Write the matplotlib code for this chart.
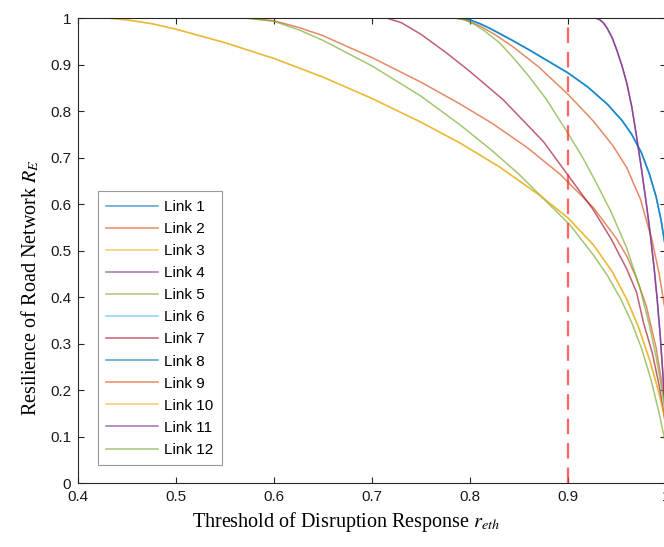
import matplotlib
matplotlib.use("Agg")
import matplotlib.pyplot as plt
from matplotlib.ticker import FuncFormatter

plt.rcParams['font.family'] = ['Liberation Sans', 'DejaVu Sans']
plt.rcParams['mathtext.fontset'] = 'stix'

# ---- data ----
blue_x = [0.40, 0.79, 0.80, 0.81, 0.82, 0.83, 0.844, 0.86, 0.88, 0.90, 0.92, 0.94, 0.955, 0.965, 0.975, 0.983, 0.99, 0.995, 1.0]
blue_y = [1.00, 1.00, 0.996, 0.988, 0.978, 0.967, 0.951, 0.932, 0.907, 0.882, 0.852, 0.815, 0.78, 0.75, 0.71, 0.665, 0.615, 0.565, 0.50]

lorange_x = [0.40, 0.575, 0.60, 0.625, 0.65, 0.70, 0.75, 0.79, 0.823, 0.858, 0.892, 0.926, 0.949, 0.96, 0.97, 0.98, 0.99, 1.0]
lorange_y = [1.00, 1.00, 0.994, 0.98, 0.962, 0.915, 0.862, 0.815, 0.773, 0.722, 0.664, 0.592, 0.527, 0.488, 0.44, 0.38, 0.29, 0.16]

yellow_x = [0.40, 0.43, 0.45, 0.475, 0.50, 0.55, 0.60, 0.65, 0.70, 0.75, 0.79, 0.83, 0.871, 0.90, 0.926, 0.945, 0.96, 0.972, 0.984, 0.992, 1.0]
yellow_y = [1.00, 1.00, 0.996, 0.988, 0.976, 0.947, 0.913, 0.873, 0.827, 0.776, 0.731, 0.68, 0.619, 0.57, 0.512, 0.455, 0.395, 0.335, 0.26, 0.20, 0.13]

purple_x = [0.40, 0.928, 0.932, 0.936, 0.94, 0.945, 0.95, 0.955, 0.96, 0.965, 0.97, 0.975, 0.98, 0.984, 0.988, 0.991, 0.994, 0.997, 1.0]
purple_y = [1.00, 1.00, 0.997, 0.99, 0.978, 0.958, 0.93, 0.898, 0.86, 0.81, 0.745, 0.675, 0.60, 0.535, 0.46, 0.395, 0.32, 0.23, 0.13]

lgreen_x = [0.40, 0.57, 0.60, 0.625, 0.65, 0.70, 0.75, 0.79, 0.823, 0.85, 0.871, 0.902, 0.926, 0.94, 0.954, 0.965, 0.975, 0.985, 0.993, 1.0]
lgreen_y = [1.00, 1.00, 0.993, 0.975, 0.952, 0.897, 0.832, 0.77, 0.714, 0.664, 0.62, 0.555, 0.49, 0.447, 0.395, 0.345, 0.29, 0.22, 0.15, 0.08]

crimson_x = [0.40, 0.715, 0.73, 0.75, 0.776, 0.80, 0.834, 0.875, 0.90, 0.926, 0.944, 0.96, 0.97, 0.977, 0.986, 0.993, 1.0]
crimson_y = [1.00, 1.00, 0.99, 0.965, 0.925, 0.885, 0.824, 0.734, 0.662, 0.587, 0.525, 0.46, 0.41, 0.345, 0.28, 0.21, 0.12]

dorange_x = [0.40, 0.785, 0.795, 0.81, 0.825, 0.844, 0.87, 0.90, 0.926, 0.946, 0.96, 0.974, 0.986, 0.993, 1.0]
dorange_y = [1.00, 1.00, 0.996, 0.983, 0.965, 0.938, 0.895, 0.836, 0.778, 0.725, 0.678, 0.61, 0.52, 0.45, 0.36]

sgreen_x = [0.40, 0.785, 0.795, 0.805, 0.815, 0.83, 0.844, 0.86, 0.878, 0.89, 0.90, 0.915, 0.929, 0.944, 0.96, 0.974, 0.983, 0.99, 0.995, 1.0]
sgreen_y = [1.00, 1.00, 0.996, 0.986, 0.972, 0.947, 0.915, 0.875, 0.825, 0.785, 0.752, 0.70, 0.645, 0.583, 0.505, 0.415, 0.34, 0.27, 0.21, 0.14]

link_labels = ['Link 1', 'Link 2', 'Link 3', 'Link 4', 'Link 5', 'Link 6',
               'Link 7', 'Link 8', 'Link 9', 'Link 10', 'Link 11', 'Link 12']
link_series = [(blue_x, blue_y), (lorange_x, lorange_y), (yellow_x, yellow_y),
               (purple_x, purple_y), (lgreen_x, lgreen_y), (blue_x, blue_y),
               (crimson_x, crimson_y), (blue_x, blue_y), (dorange_x, dorange_y),
               (yellow_x, yellow_y), (purple_x, purple_y), (sgreen_x, sgreen_y)]
colors = ['#0072BD', '#D95319', '#EDB120', '#7E2F8E', '#77AC30', '#4DBEEE',
          '#A2142F', '#0072BD', '#D95319', '#EDB120', '#7E2F8E', '#77AC30']

threshold = 0.9
x_ticks = [0.4, 0.5, 0.6, 0.7, 0.8, 0.9, 1.0]
y_ticks = [0, 0.1, 0.2, 0.3, 0.4, 0.5, 0.6, 0.7, 0.8, 0.9, 1.0]

fig = plt.figure(figsize=(6.64, 5.47), dpi=100)
ax = fig.add_axes([0.1175, 0.117, 1.003 - 0.1175, 0.967 - 0.117])

for (xs, ys), c, lab in zip(link_series, colors, link_labels):
    ax.plot(xs, ys, color=c, lw=1.1, alpha=0.68, label=lab)

ax.axvline(threshold, color='#FF3030', lw=1.6, alpha=0.75, dashes=(7, 4))

ax.set_xlim(0.4, 1.0)
ax.set_ylim(0, 1.0)
ax.set_xticks(x_ticks)
ax.set_yticks(y_ticks)
fmt = FuncFormatter(lambda v, p: ('%g' % round(v, 2)))
ax.xaxis.set_major_formatter(fmt)
ax.yaxis.set_major_formatter(fmt)
ax.tick_params(direction='in', length=4, width=0.8, top=True, right=True,
               labelsize=11, colors='#262626', pad=5)
ax.tick_params(axis='x', labelcolor='#1a1a1a')
ax.tick_params(axis='y', labelcolor='#1a1a1a')
for s in ax.spines.values():
    s.set_color('#262626')
    s.set_linewidth(0.8)

ax.set_xlabel('Threshold of Disruption Response $r_{eth}$', fontsize=14.5,
              family='Liberation Serif')
ax.set_ylabel('Resilience of Road Network $R_E$', fontsize=14.5,
              family='Liberation Serif')
ax.xaxis.set_label_coords(0.457, -0.058)
ax.yaxis.set_label_coords(-0.062, 0.42)

leg = ax.legend(loc='lower left', bbox_to_anchor=(0.034, 0.038), fontsize=11,
                frameon=True, fancybox=False, edgecolor='#808080',
                handlelength=3.4, handletextpad=0.4, labelspacing=0.53,
                borderpad=0.55, borderaxespad=0)
leg.get_frame().set_linewidth(0.8)

fig.savefig('out.png', dpi=100)
